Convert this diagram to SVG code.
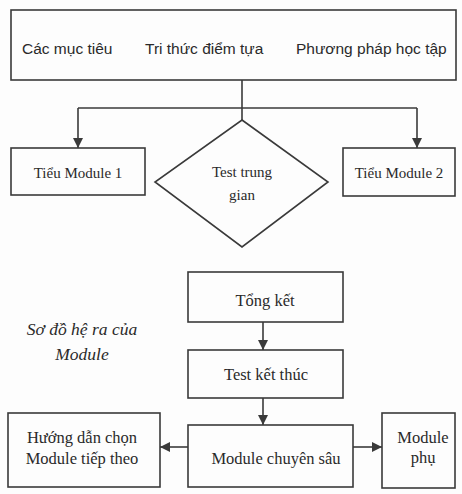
<svg xmlns="http://www.w3.org/2000/svg" width="462" height="494" viewBox="0 0 462 494">
<style>
.box{fill:none;stroke:#3a3a3a;stroke-width:1.6}
.ln{fill:none;stroke:#3a3a3a;stroke-width:1.6}
.sans{font-family:"Liberation Sans",Arial,sans-serif;font-size:15.5px;fill:#2a2a2a}
.serif{font-family:"Liberation Serif","Times New Roman",serif;font-size:15px;fill:#2a2a2a;text-anchor:middle}
.big{font-size:16.5px}
.it{font-family:"Liberation Serif","Times New Roman",serif;font-size:17.5px;font-style:italic;fill:#2a2a2a;text-anchor:middle}
</style>
<defs>
<marker id="ah" viewBox="0 0 10 10" refX="10" refY="5" markerWidth="10" markerHeight="10" markerUnits="userSpaceOnUse" orient="auto">
<path d="M0,0 L10,5 L0,10 Z" fill="#3a3a3a"/>
</marker>
</defs>
<rect width="462" height="494" fill="#fdfdfd"/>
<g id="connectors">
<path class="ln" d="M242,80 V120"/>
<path class="ln" d="M78,108 H417"/>
<path class="ln" d="M78,108 V148" marker-end="url(#ah)"/>
<path class="ln" d="M417,108 V148" marker-end="url(#ah)"/>
<path class="ln" d="M263,322 V350" marker-end="url(#ah)"/>
<path class="ln" d="M263,398 V425" marker-end="url(#ah)"/>
<path class="ln" d="M188,447 H160" marker-end="url(#ah)"/>
<path class="ln" d="M353,447 H382" marker-end="url(#ah)"/>
</g>
<g id="top">
<rect class="box" x="11" y="10" width="445" height="70"/>
<text class="sans" x="22" y="54">Các mục tiêu</text>
<text class="sans" x="145" y="54">Tri thức điểm tựa</text>
<text class="sans" x="296" y="54">Phương pháp học tập</text>
</g>
<g id="tieu1">
<rect class="box" x="11" y="148" width="134" height="47"/>
<text class="serif" x="78" y="178">Tiểu Module 1</text>
</g>
<g id="test-trung-gian">
<path class="box" d="M242,120 L328,182 L242,247 L155,182 Z"/>
<text class="serif" x="242" y="177">Test trung</text>
<text class="serif" x="242" y="200">gian</text>
</g>
<g id="tieu2">
<rect class="box" x="343" y="148" width="112" height="48"/>
<text class="serif" x="399" y="178">Tiểu Module 2</text>
</g>
<g id="caption">
<text class="it" x="82" y="335">Sơ đồ hệ ra của</text>
<text class="it" x="82" y="360">Module</text>
</g>
<g id="tong-ket">
<rect class="box" x="188" y="272" width="155" height="50"/>
<text class="serif big" x="265" y="306">Tổng kết</text>
</g>
<g id="test-ket-thuc">
<rect class="box" x="188" y="350" width="155" height="48"/>
<text class="serif big" x="266" y="380">Test kết thúc</text>
</g>
<g id="chuyen-sau">
<rect class="box" x="188" y="425" width="165" height="62"/>
<text class="serif big" x="276" y="464">Module chuyên sâu</text>
</g>
<g id="huong-dan">
<rect class="box" x="8" y="413" width="152" height="74"/>
<text class="serif big" x="82" y="443">Hướng dẫn chọn</text>
<text class="serif big" x="82" y="464">Module tiếp theo</text>
</g>
<g id="phu">
<rect class="box" x="382" y="413" width="73" height="75"/>
<text class="serif big" x="423" y="443">Module</text>
<text class="serif big" x="423" y="463">phụ</text>
</g>
</svg>
